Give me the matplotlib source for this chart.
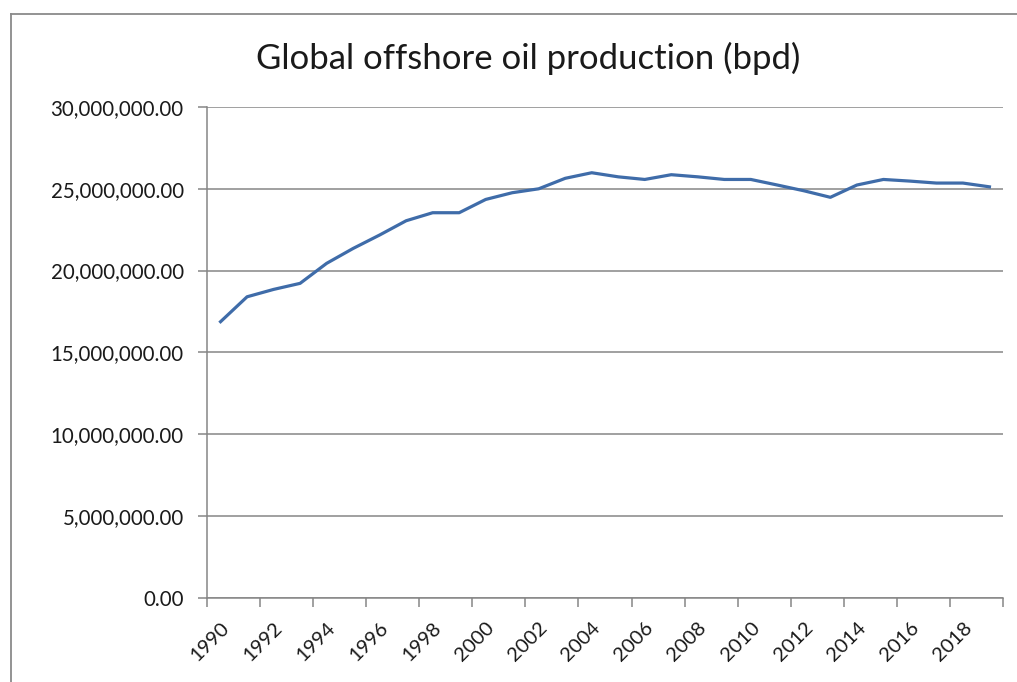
import matplotlib
matplotlib.use("Agg")
import matplotlib.pyplot as plt
from matplotlib.lines import Line2D
from matplotlib.ticker import FuncFormatter, FixedLocator

years = list(range(1990, 2020))
production = [16.88e6, 18.40e6, 18.85e6, 19.22e6, 20.44e6, 21.35e6, 22.17e6, 23.04e6,
              23.53e6, 23.53e6, 24.34e6, 24.75e6, 24.99e6, 25.63e6, 25.97e6, 25.72e6,
              25.56e6, 25.85e6, 25.72e6, 25.56e6, 25.56e6, 25.22e6, 24.87e6, 24.47e6,
              25.22e6, 25.56e6, 25.46e6, 25.34e6, 25.34e6, 25.11e6]
title = "Global offshore oil production (bpd)"

plt.rcParams['font.family'] = ['Lato', 'DejaVu Sans']

W, H = 1017, 682
fig = plt.figure(figsize=(W / 100, H / 100), dpi=100)
fig.patch.set_facecolor('white')

left, right, top, bottom = 207.3, 1002.7, 106.7, 598.3
ax = fig.add_axes([left / W, 1 - bottom / H, (right - left) / W, (bottom - top) / H])

grid_c = '#868686'
x = list(range(len(years)))
ax.plot(x, production, color='#3F6CA9', lw=2.3, solid_joinstyle='round', zorder=3)

ax.set_xlim(-0.5, len(years) - 0.5)
ax.set_ylim(0, 30e6)
ax.yaxis.set_major_locator(FixedLocator([i * 5e6 for i in range(7)]))
ax.yaxis.set_major_formatter(FuncFormatter(lambda v, p: f"{v:,.2f}"))
ax.grid(axis='y', color=grid_c, lw=1.1)
ax.set_axisbelow(True)

# category boundaries as major ticks, labels on every other category
ax.xaxis.set_major_locator(FixedLocator([i - 0.5 for i in range(0, len(years) + 1, 2)]))
ax.xaxis.set_minor_locator(FixedLocator(list(range(0, len(years), 2))))
ax.xaxis.set_major_formatter(FuncFormatter(lambda v, p: ""))
ax.xaxis.set_minor_formatter(FuncFormatter(lambda v, p: str(years[int(round(v))])))
ax.tick_params(axis='x', which='major', length=6.5, width=1.1, color=grid_c, direction='out')
ax.tick_params(axis='x', which='minor', length=0, pad=15, labelsize=14.5, labelcolor='#1a1a1a')
for lab in ax.xaxis.get_minorticklabels():
    lab.set_rotation(45)
    lab.set_ha('right')
    lab.set_va('top')
    lab.set_rotation_mode('anchor')
ax.tick_params(axis='y', length=6.5, width=1.1, color=grid_c, direction='out', pad=10.5,
               labelsize=14.8, labelcolor='#1a1a1a')

for s in ['top', 'right']:
    ax.spines[s].set_visible(False)
for s in ['left', 'bottom']:
    ax.spines[s].set_color(grid_c)
    ax.spines[s].set_linewidth(1.1)

fig.text(528 / W, 1 - 58 / H, title, ha='center', va='center', fontsize=25, color='#1a1a1a')

# outer chart frame (cropped at right and bottom)
fig.add_artist(Line2D([11 / W, 11 / W], [0, 1 - 14 / H], transform=fig.transFigure,
                      color='#8a8a8a', lw=1.3))
fig.add_artist(Line2D([11 / W, 1], [1 - 14 / H, 1 - 14 / H], transform=fig.transFigure,
                      color='#8a8a8a', lw=1.3))

fig.savefig('out.png', dpi=100, facecolor='white')
